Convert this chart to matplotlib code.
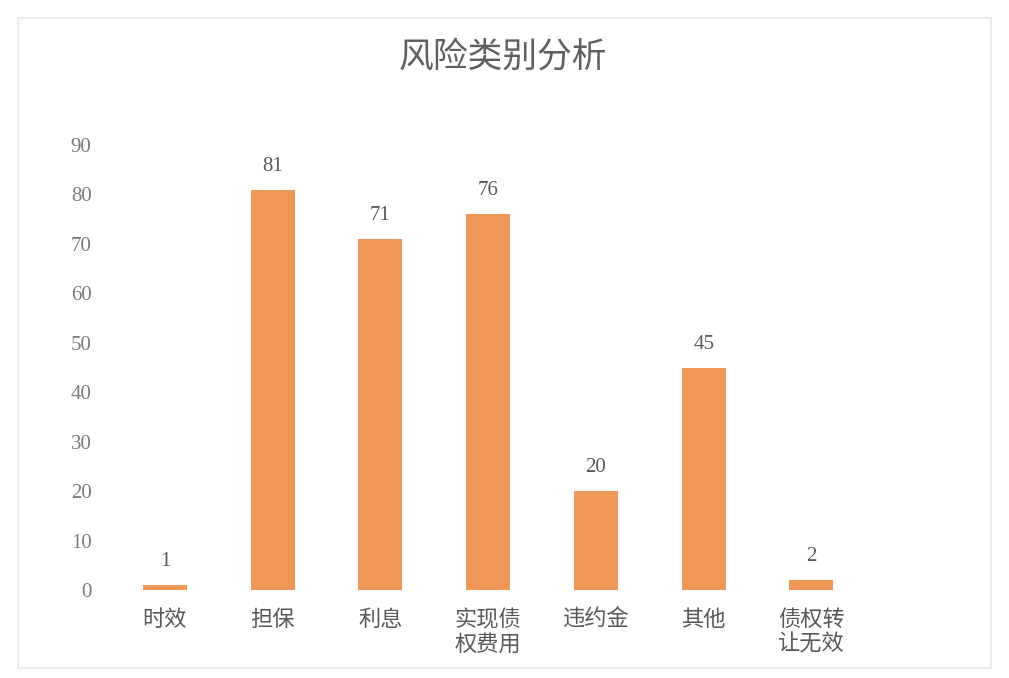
import numpy as np
import matplotlib
matplotlib.use("Agg")
import matplotlib.pyplot as plt
from matplotlib.patches import Rectangle

categories = ["时效", "担保", "利息", "实现债\n权费用", "违约金", "其他", "债权转\n让无效"]
values = [1, 81, 71, 76, 20, 45, 2]
yticks = [0, 10, 20, 30, 40, 50, 60, 70, 80, 90]

W, H = 1009, 678
fig = plt.figure(figsize=(W / 100, H / 100), dpi=100)
fig.patch.set_facecolor("white")

# light frame around the chart
fig.patches.append(Rectangle((18 / W, 1 - 668 / H), (991 - 18) / W, (668 - 18) / H,
                             transform=fig.transFigure, fill=False,
                             edgecolor="#ececec", linewidth=1.5))

# plot area: x 111..973 px (8 slots), y 145..590 px
ax = fig.add_axes([111 / W, 1 - 590 / H, (973 - 111) / W, (590 - 145) / H])
x = np.arange(len(categories))
bars = ax.bar(x, values, width=0.41, color="#f09656")

ax.set_xlim(-0.5, 7.5)
ax.set_ylim(0, 90)
ax.set_yticks(yticks)
ax.set_yticklabels([str(v) for v in yticks], fontfamily="Liberation Serif",
                   fontsize=15, color="#7a7a7a")
ax.set_xticks(x)
ax.set_xticklabels(categories, fontfamily=["Noto Sans CJK SC", "DejaVu Sans"],
                   fontsize=16, color="#595959", linespacing=1.1)
ax.tick_params(axis="both", length=0)
ax.tick_params(axis="x", pad=13)
ax.tick_params(axis="y", pad=14)
for s in ax.spines.values():
    s.set_visible(False)

for xi, v in zip(x, values):
    ax.annotate(str(v), (xi, v), xytext=(0, 10), textcoords="offset points",
                ha="center", va="bottom", fontfamily="Liberation Serif",
                fontsize=15, color="#595959")

fig.text(503 / W, 1 - 58 / H, "风险类别分析", ha="center", va="center",
         fontfamily=["Noto Sans CJK SC", "DejaVu Sans"], fontsize=25,
         color="#5f5f5f")

fig.savefig("out.png", dpi=100)
